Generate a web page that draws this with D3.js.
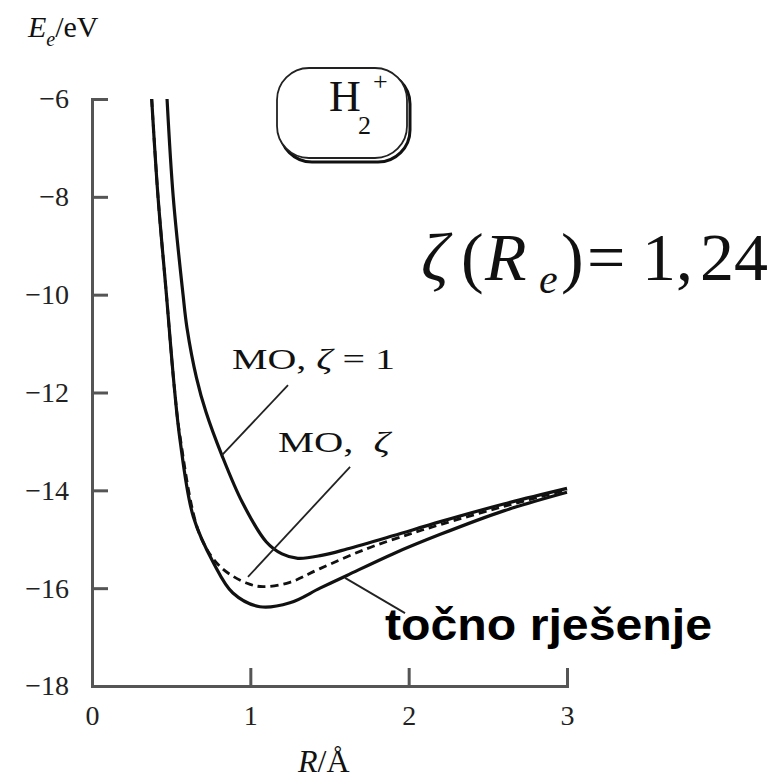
<!DOCTYPE html>
<html>
<head>
<meta charset="utf-8">
<script src="https://cdn.jsdelivr.net/npm/d3@7"></script>
<style>
  body { margin: 0; background: #fff; }
  svg { display: block; }
  .axis path, .axis line { stroke: #555; stroke-width: 3; }
</style>
</head>
<body>
<svg id="chart" width="769" height="782"></svg>
<script>
const SERIF = "'Liberation Serif', 'Times New Roman', serif";

// tick values
const xTicks = [0, 1, 2, 3];
const yTicks = [-18, -16, -14, -12, -10, -8, -6];

// MO, zeta = 1 (upper solid curve)
const moR = [0.474, 0.513, 0.575, 0.60, 0.66, 0.72, 0.82, 0.95, 1.1, 1.2, 1.3, 1.45, 1.61, 1.9, 2.2, 2.6, 3.0];
const moE = [-6.0, -8.0, -10.0, -10.68, -11.7, -12.4, -13.28, -14.25, -15.05, -15.3, -15.39, -15.33, -15.2, -14.93, -14.64, -14.28, -13.96];

// MO, optimised zeta (dashed)
const zR = [0.377, 0.417, 0.47, 0.52, 0.556, 0.68, 0.81, 0.98, 1.08, 1.25, 1.44, 1.73, 2.0, 2.2, 2.6, 3.0];
const zE = [-6.0, -8.0, -10.0, -11.9, -12.9, -14.9, -15.56, -15.9, -15.97, -15.88, -15.6, -15.2, -14.9, -14.7, -14.33, -13.99];

// exact solution (lower solid)
const exR = [0.377, 0.417, 0.47, 0.52, 0.556, 0.64, 0.77, 0.89, 1.06, 1.25, 1.44, 1.61, 1.9, 2.2, 2.6, 3.0];
const exE = [-6.0, -8.0, -10.0, -11.9, -12.97, -14.54, -15.5, -16.1, -16.38, -16.3, -16.0, -15.74, -15.3, -14.9, -14.42, -14.04];

// leader lines [R1, E1, R2, E2]
const leaders = [
    [1.238, -11.85, 0.821, -13.28],
    [1.63, -13.52, 0.985, -15.77],
    [1.598, -15.79, 1.977, -16.51]
];

const svg = d3.select("#chart");

const x = d3.scaleLinear().domain([0, 3]).range([92, 567]);
const y = d3.scaleLinear().domain([-18, -6]).range([686, 99]);

// axes, ticks point inward
svg.append("g")
    .attr("class", "axis")
    .attr("transform", `translate(${x(0)},0)`)
    .call(d3.axisLeft(y).tickValues(yTicks).tickSize(-16).tickSizeOuter(0).tickPadding(23).tickFormat(d3.format("d")))
    .call(g => g.selectAll("text").attr("font-family", SERIF).attr("font-size", 28).attr("fill", "#222"))
    .attr("font-family", SERIF);

svg.append("g")
    .attr("class", "axis")
    .attr("transform", `translate(0,${y(-18)})`)
    .call(d3.axisBottom(x).tickValues(xTicks).tickSize(-18).tickSizeOuter(0).tickPadding(12).tickFormat(d3.format("d")))
    .call(g => g.selectAll("text").attr("font-family", SERIF).attr("font-size", 28).attr("fill", "#222").attr("dy", "0.95em"))
    .attr("font-family", SERIF);

svg.selectAll(".axis path").attr("stroke-linecap", "square");

const line = d3.line()
    .x(d => x(d[0]))
    .y(d => y(d[1]))
    .curve(d3.curveCatmullRom.alpha(0.5));

const zip = (a, b) => a.map((v, i) => [v, b[i]]);

svg.append("path")
    .attr("d", line(zip(exR, exE)))
    .attr("fill", "none").attr("stroke", "#111").attr("stroke-width", 3.2);

svg.append("path")
    .attr("d", line(zip(zR, zE)))
    .attr("fill", "none").attr("stroke", "#111").attr("stroke-width", 2.8)
    .attr("stroke-dasharray", "8,5");

svg.append("path")
    .attr("d", line(zip(moR, moE)))
    .attr("fill", "none").attr("stroke", "#111").attr("stroke-width", 3.2);

svg.selectAll(".leader")
    .data(leaders)
    .enter().append("line")
    .attr("x1", d => x(d[0])).attr("y1", d => y(d[1]))
    .attr("x2", d => x(d[2])).attr("y2", d => y(d[3]))
    .attr("stroke", "#222").attr("stroke-width", 1.8);

// curve labels
svg.append("text")
    .attr("font-family", SERIF).attr("fill", "#111")
    .attr("x", 232).attr("y", 369).attr("font-size", 30)
    .attr("textLength", 163).attr("lengthAdjust", "spacingAndGlyphs")
    .html('MO, <tspan font-style="italic">ζ</tspan> = 1');

svg.append("text")
    .attr("font-family", SERIF).attr("fill", "#111")
    .attr("x", 278).attr("y", 452).attr("font-size", 30)
    .attr("textLength", 112).attr("lengthAdjust", "spacingAndGlyphs")
    .html('MO,&#160; <tspan font-style="italic">ζ</tspan>');

svg.append("text")
    .attr("x", 385).attr("y", 640)
    .attr("font-family", "'Liberation Sans', Arial, sans-serif")
    .attr("font-weight", "bold").attr("font-size", 45).attr("fill", "#000")
    .attr("textLength", 327).attr("lengthAdjust", "spacingAndGlyphs")
    .text("točno rješenje");

// zeta(Re) = 1,24  (one text element, pieces placed with tspans)
svg.append("text")
    .attr("font-family", SERIF).attr("fill", "#111").attr("font-size", 68)
    .attr("y", 280)
    .html('<tspan x="421" font-style="italic">ζ</tspan>' +
          '<tspan x="461">(</tspan>' +
          '<tspan x="485" font-style="italic">R</tspan>' +
          '<tspan x="539" y="293" font-style="italic" font-size="42">e</tspan>' +
          '<tspan x="561" y="280">)</tspan>' +
          '<tspan x="587">=</tspan>' +
          '<tspan x="642">1,</tspan>' +
          '<tspan x="700">24</tspan>');

// H2+ box
svg.append("rect")
    .attr("x", 280).attr("y", 72).attr("width", 130).attr("height", 90).attr("rx", 32)
    .attr("fill", "none").attr("stroke", "#111").attr("stroke-width", 3);
svg.append("rect")
    .attr("x", 277).attr("y", 68).attr("width", 130).attr("height", 90).attr("rx", 32)
    .attr("fill", "#fff").attr("stroke", "#222").attr("stroke-width", 1.8);
const h = svg.append("g").attr("font-family", SERIF).attr("fill", "#111");
h.append("text").attr("x", 329).attr("y", 111).attr("font-size", 44).text("H");
h.append("text").attr("x", 358).attr("y", 134).attr("font-size", 26).text("2");
h.append("text").attr("x", 373).attr("y", 90).attr("font-size", 26).text("+");

// axis titles
svg.append("text")
    .attr("font-family", SERIF).attr("fill", "#111")
    .attr("x", 28).attr("y", 37).attr("font-size", 30)
    .html('<tspan font-style="italic">E</tspan><tspan font-style="italic" font-size="20" dy="9">e</tspan><tspan dy="-9">/eV</tspan>');

svg.append("text")
    .attr("font-family", SERIF).attr("fill", "#111")
    .attr("x", 298).attr("y", 772).attr("font-size", 32)
    .html('<tspan font-style="italic">R</tspan>/Å');
</script>
</body>
</html>
